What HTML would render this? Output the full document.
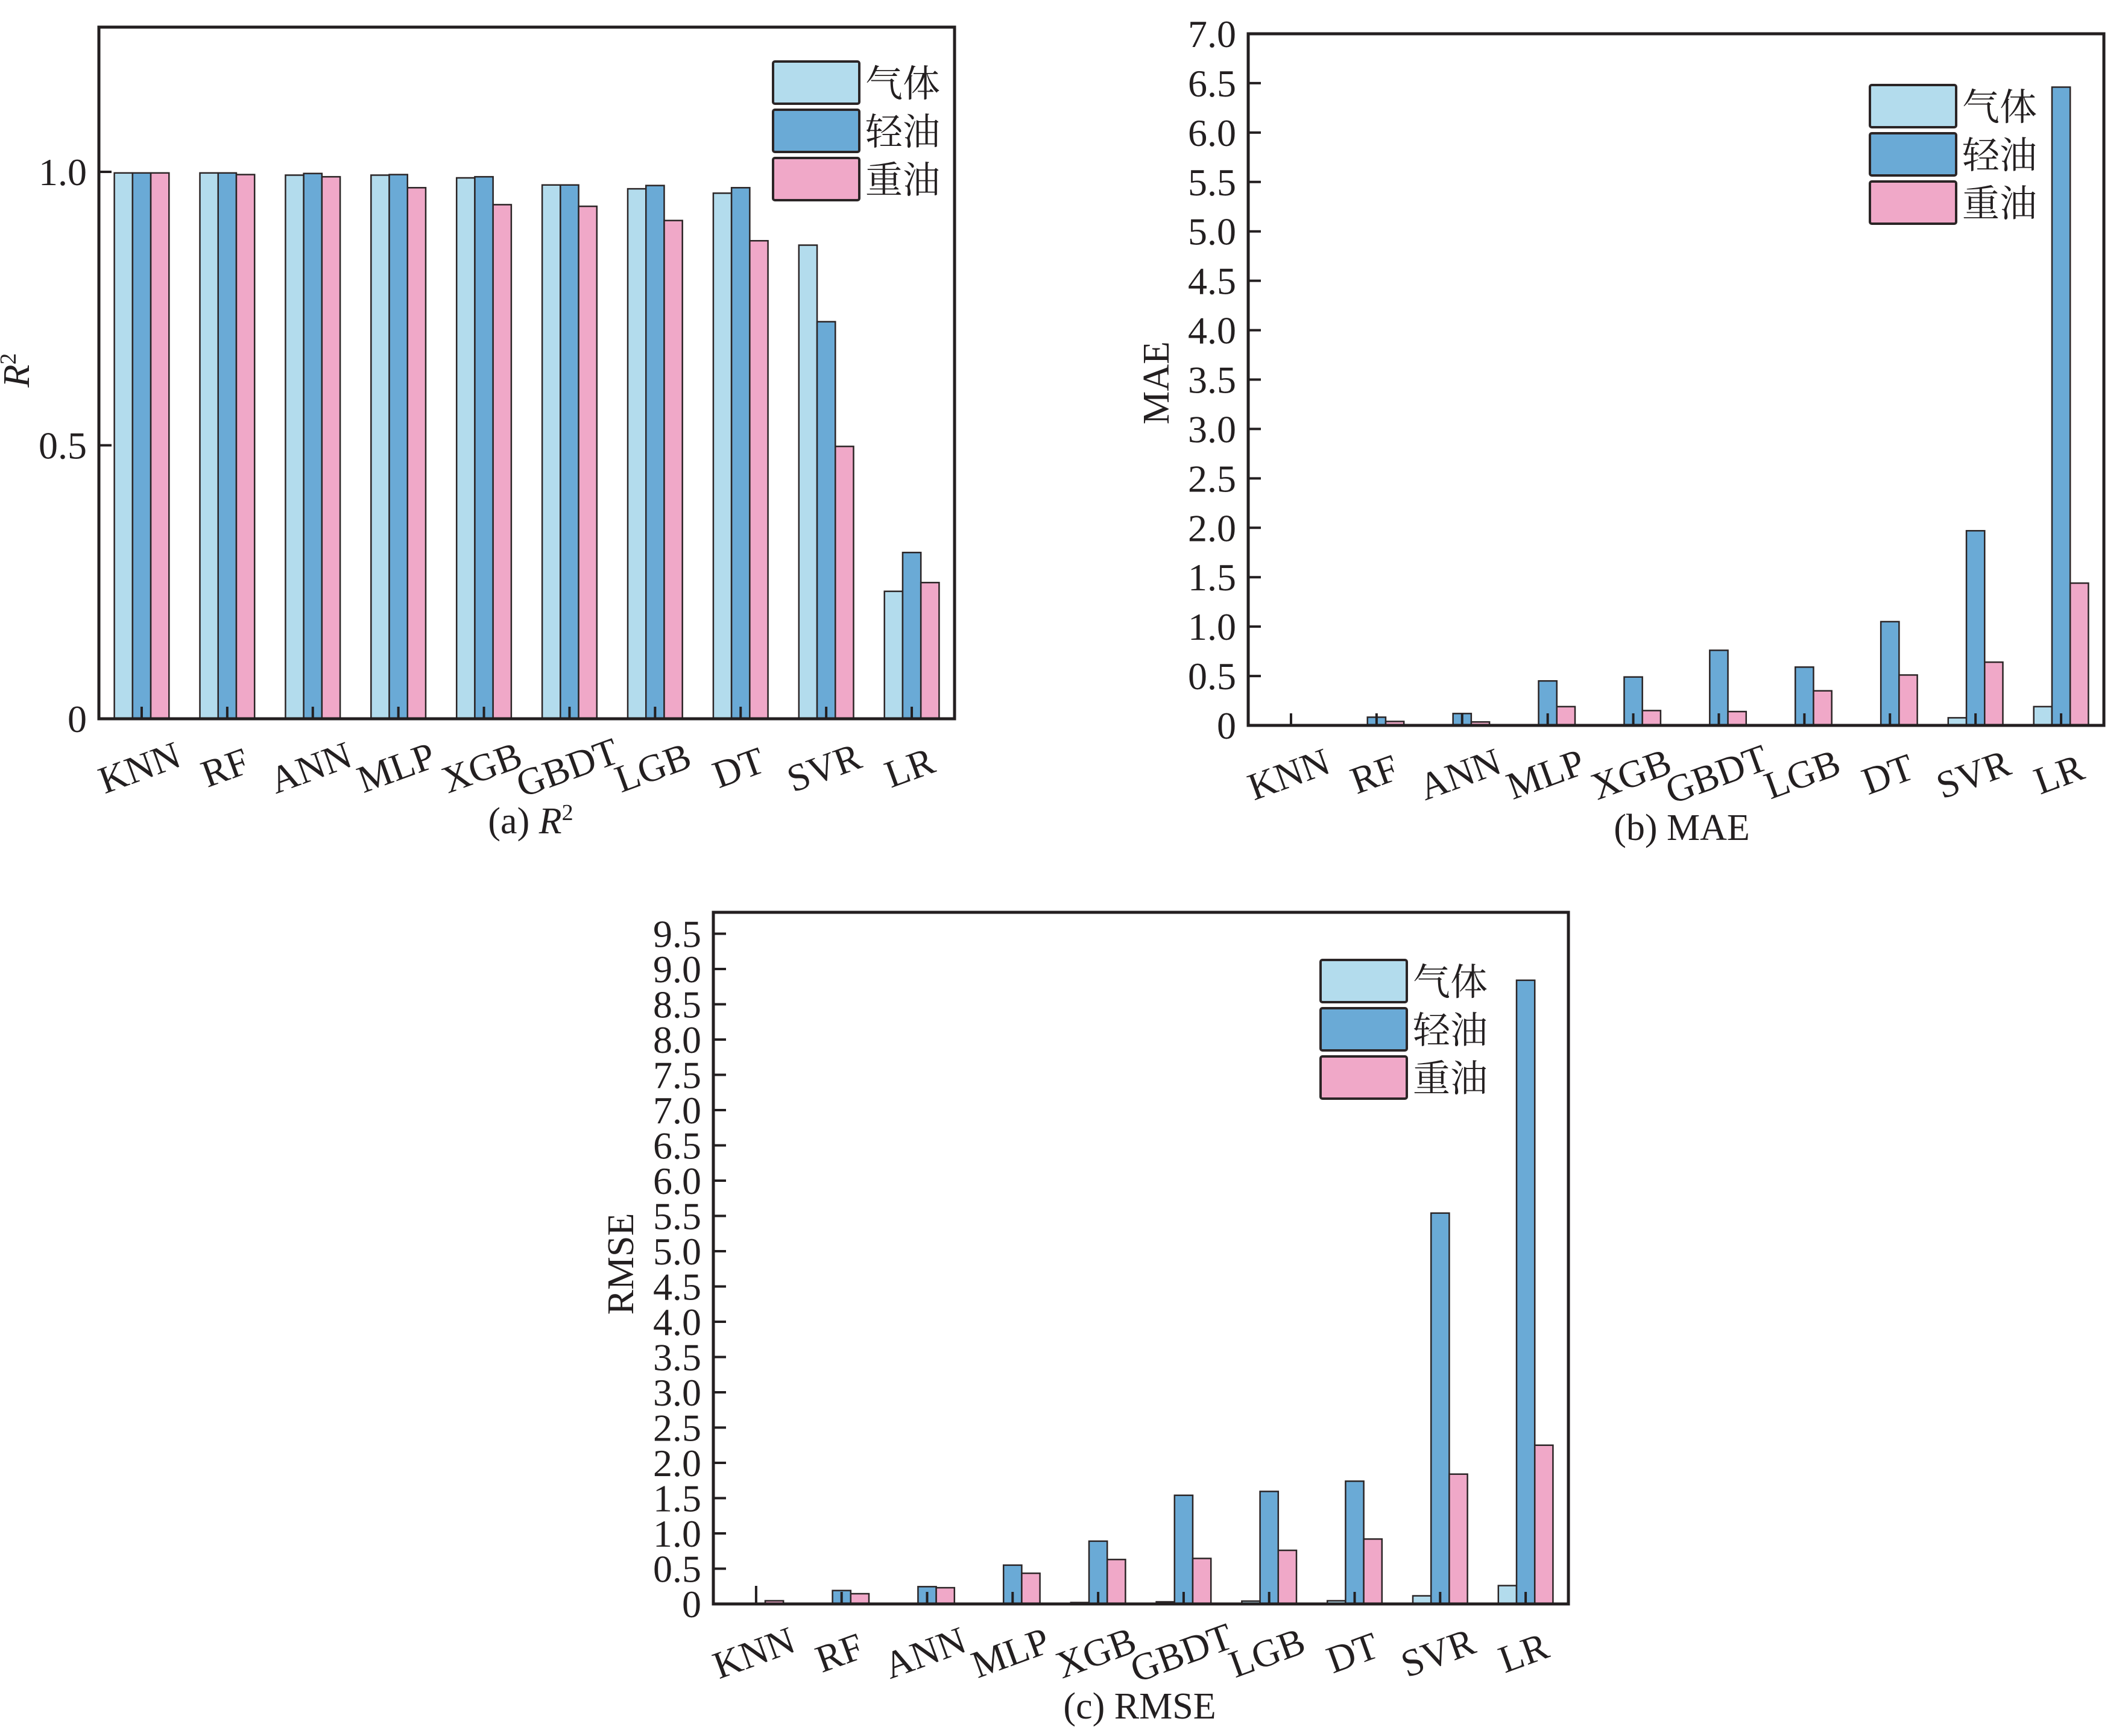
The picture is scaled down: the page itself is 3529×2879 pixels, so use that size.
<!DOCTYPE html>
<html><head><meta charset="utf-8">
<style>
html,body{margin:0;padding:0;background:#fff;}
svg{display:block;font-family:"Liberation Serif","Noto Serif CJK SC",serif;}
text{font-family:"Liberation Serif","Noto Serif CJK SC",serif;fill:#231f20;}
</style></head>
<body>
<svg id="fig" width="3529" height="2879" viewBox="0 0 3529 2879" xmlns="http://www.w3.org/2000/svg" font-family="Liberation Serif, Noto Serif CJK SC, serif"></svg>
<script>
const categories = ["KNN","RF","ANN","MLP","XGB","GBDT","LGB","DT","SVR","LR"];
const seriesNames = ["气体","轻油","重油"];
const r2Gas   = [0.998,0.998,0.994,0.994,0.989,0.976,0.969,0.961,0.866,0.233];
const r2Light = [0.998,0.998,0.997,0.995,0.991,0.976,0.975,0.971,0.726,0.304];
const r2Heavy = [0.998,0.995,0.991,0.971,0.940,0.937,0.911,0.874,0.498,0.249];
const maeGas   = [0.003,0.003,0.005,0.003,0.003,0.003,0.003,0.003,0.077,0.19];
const maeLight = [0.003,0.083,0.12,0.45,0.49,0.76,0.59,1.05,1.97,6.46];
const maeHeavy = [0.003,0.04,0.035,0.19,0.15,0.14,0.35,0.51,0.64,1.44];
const rmseGas   = [0.005,0.005,0.01,0.01,0.02,0.03,0.04,0.045,0.115,0.26];
const rmseLight = [0.005,0.19,0.245,0.55,0.89,1.54,1.595,1.74,5.54,8.84];
const rmseHeavy = [0.045,0.145,0.23,0.435,0.63,0.645,0.76,0.92,1.84,2.25];
const r2Ticks = [0,0.5,1.0];
const r2TickLabels = ["0","0.5","1.0"];
const maeTicks = [0,0.5,1,1.5,2,2.5,3,3.5,4,4.5,5,5.5,6,6.5,7];
const maeTickLabels = ["0","0.5","1.0","1.5","2.0","2.5","3.0","3.5","4.0","4.5","5.0","5.5","6.0","6.5","7.0"];
const rmseTicks = [0,0.5,1,1.5,2,2.5,3,3.5,4,4.5,5,5.5,6,6.5,7,7.5,8,8.5,9,9.5];
const rmseTickLabels = ["0","0.5","1.0","1.5","2.0","2.5","3.0","3.5","4.0","4.5","5.0","5.5","6.0","6.5","7.0","7.5","8.0","8.5","9.0","9.5"];

const colors = ["#b3dced","#6aaad6","#f0a8c8"];
const NS = "http://www.w3.org/2000/svg";
const fig = document.getElementById('fig');
const FF = '"Liberation Serif","Noto Serif CJK SC",serif';
function mk(tag, attrs, parent){
  const e = document.createElementNS(NS, tag);
  for (const k in attrs) e.setAttribute(k, attrs[k]);
  if (tag === 'text') e.style.fontFamily = FF;
  (parent||fig).appendChild(e);
  return e;
}

function drawChart(id, cfg, series, ticks, tickLabels){
  const g = mk('g', {});
  
  
  const x0 = cfg.x0, x1 = cfg.x1, top = cfg.top, bot = cfg.bot;
  const yScale = v => bot - (v / cfg.ymax) * (bot - top);
  const band = (x1 - x0) / categories.length;
  const bw = band * 0.213;
  const xCenter = i => x0 + band * (i + 0.5);

  series.forEach((vals, s) => {
    vals.forEach((v, i) => {
      const cx = xCenter(i) + (s - 1) * bw;
      const y = yScale(v);
      const r = mk('rect', {x: cx - bw/2, y: y, width: bw, height: Math.max(bot - y, 0.5),
        fill: colors[s], stroke: '#2b2526', 'stroke-width': 2.5}, g);
      
      
    });
  });

  categories.forEach((c, i) => {
    const t = mk('line', {x1: xCenter(i), x2: xCenter(i), y1: bot, y2: bot - (id==='rmse' && i===0 ? 30 : 20), stroke: '#231f20', 'stroke-width': 4}, g);
    
    
    const lx = xCenter(i) - 4, ly = bot + 80;
    const tx = mk('text', {x: lx, y: ly, 'font-size': 64, 'text-anchor': 'middle', dy: '0.35em',
      transform: 'rotate(-20 ' + lx + ' ' + ly + ')'}, g);
    tx.textContent = c;
    
    
  });

  ticks.forEach((v, k) => {
    const y = yScale(v);
    if (k > 0) {
      const t = mk('line', {x1: x0, x2: x0 + 21, y1: y, y2: y, stroke: '#231f20', 'stroke-width': 4}, g);
      
      
    }
    const tx = mk('text', {x: x0 - 20, y: y + 22, 'font-size': 64, 'text-anchor': 'end'}, g);
    tx.textContent = tickLabels[k];
    
    
  });

  const f = mk('rect', {x: x0, y: top, width: x1 - x0, height: bot - top, fill: 'none', stroke: '#231f20', 'stroke-width': 5}, g);
  
  

  const yt = mk('text', {x: cfg.ytx, y: cfg.yty, 'font-size': 62, 'text-anchor': 'middle',
    transform: 'rotate(-90 ' + cfg.ytx + ' ' + cfg.yty + ')'}, g);
  if (id === 'r2') {
    yt.innerHTML = '<tspan font-style="italic">R</tspan><tspan font-size="38" dy="-22">2</tspan>';
  } else {
    yt.textContent = cfg.ytitle;
  }
  
  

  const cap = mk('text', {x: cfg.capx, y: bot + 190, 'font-size': 62, 'text-anchor': 'middle'}, g);
  if (id === 'r2') {
    cap.innerHTML = '(a) <tspan font-style="italic">R</tspan><tspan font-size="38" dy="-22">2</tspan>';
  } else {
    cap.textContent = cfg.caption;
  }
  
  

  const lg = mk('g', {}, g);
  
  
  seriesNames.forEach((n, s) => {
    const y = cfg.ly + s * cfg.lstep;
    const b = mk('rect', {x: cfg.lx, y: y, width: 143, height: 70, fill: colors[s], stroke: '#2b2526', 'stroke-width': 4, rx: 3}, lg);
    
    
    const t = mk('text', {x: cfg.lx + 153, y: y + 58, 'font-size': 62}, lg);
    t.textContent = n;
    
    
  });
}

drawChart('r2', {x0:164, x1:1583, top:45, bot:1192, ymax:1.2646, ytx:48, yty:614, capx:880,
  lx:1282, ly:102, lstep:80}, [r2Gas, r2Light, r2Heavy], r2Ticks, r2TickLabels);
drawChart('mae', {x0:2070, x1:3489, top:56, bot:1203, ymax:7.0, ytx:1938, yty:635, ytitle:'MAE', capx:2789, caption:'(b) MAE',
  lx:3101, ly:141, lstep:80}, [maeGas, maeLight, maeHeavy], maeTicks, maeTickLabels);
drawChart('rmse', {x0:1183, x1:2601, top:1513, bot:2660, ymax:9.803, ytx:1050, yty:2096, ytitle:'RMSE', capx:1890, caption:'(c) RMSE',
  lx:2190, ly:1592, lstep:80}, [rmseGas, rmseLight, rmseHeavy], rmseTicks, rmseTickLabels);
</script>
</body></html>
